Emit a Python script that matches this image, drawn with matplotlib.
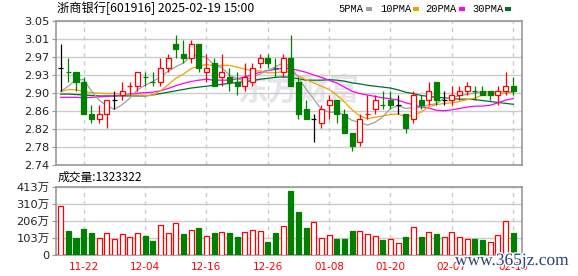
import matplotlib
matplotlib.use('Agg')
import matplotlib.pyplot as plt
import matplotlib.patheffects as pe
from matplotlib.patches import Rectangle
import numpy as np

# ---------------- data ----------------
tick_idx = [3, 11, 19, 27, 35, 43, 51, 59]
tick_labels = ['11-22', '12-04', '12-16', '12-26', '01-08', '01-20', '02-07', '02-19']

opens = [2.95, 2.94, 2.94, 2.92, 2.85, 2.84, 2.85, 2.88, 2.89, 2.91, 2.91, 2.93, 2.92, 2.92, 2.95,
         3.00, 2.98, 2.97, 3.00, 2.94, 2.96, 2.93, 2.93, 2.92, 2.91, 2.92, 2.96, 2.97, 2.95, 2.94,
         2.97, 2.92, 2.86, 2.84, 2.83, 2.87, 2.88, 2.85, 2.81, 2.79, 2.85, 2.86, 2.87, 2.88, 2.87,
         2.85, 2.84, 2.88, 2.88, 2.92, 2.88, 2.88, 2.89, 2.90, 2.90, 2.90, 2.90, 2.89, 2.90, 2.91]
highs = [3.00, 2.97, 2.94, 2.93, 2.87, 2.87, 2.88, 2.90, 2.92, 2.92, 2.94, 2.94, 2.94, 2.97, 2.98,
         3.02, 3.01, 3.01, 3.00, 2.98, 2.97, 2.98, 2.95, 2.94, 2.96, 2.96, 2.98, 2.98, 2.97, 2.98,
         3.02, 2.93, 2.88, 2.85, 2.87, 2.89, 2.88, 2.86, 2.81, 2.85, 2.89, 2.89, 2.90, 2.90, 2.89,
         2.85, 2.90, 2.89, 2.92, 2.92, 2.90, 2.91, 2.91, 2.92, 2.91, 2.91, 2.90, 2.91, 2.94, 2.93]
lows = [2.90, 2.92, 2.90, 2.85, 2.83, 2.83, 2.82, 2.86, 2.88, 2.89, 2.90, 2.91, 2.91, 2.91, 2.94,
        2.97, 2.96, 2.96, 2.94, 2.92, 2.91, 2.91, 2.90, 2.89, 2.90, 2.91, 2.95, 2.95, 2.93, 2.93,
        2.91, 2.84, 2.84, 2.79, 2.82, 2.84, 2.83, 2.81, 2.77, 2.78, 2.84, 2.85, 2.86, 2.86, 2.85,
        2.81, 2.83, 2.86, 2.87, 2.87, 2.87, 2.87, 2.88, 2.89, 2.88, 2.89, 2.88, 2.87, 2.89, 2.89]
closes = [2.95, 2.94, 2.92, 2.85, 2.84, 2.85, 2.88, 2.88, 2.90, 2.91, 2.94, 2.93, 2.92, 2.95, 2.97,
          2.99, 2.97, 3.00, 2.95, 2.95, 2.91, 2.94, 2.92, 2.91, 2.93, 2.95, 2.97, 2.96, 2.95, 2.97,
          2.91, 2.85, 2.84, 2.84, 2.86, 2.88, 2.85, 2.81, 2.78, 2.84, 2.85, 2.88, 2.87, 2.87, 2.87,
          2.82, 2.89, 2.87, 2.90, 2.88, 2.88, 2.89, 2.90, 2.91, 2.90, 2.89, 2.89, 2.90, 2.91, 2.90]
# volume in units of 万 (10k shares)
volumes = [296, 145, 103, 157, 133, 101, 131, 95, 125, 109, 131, 115, 85, 179, 131,
           191, 127, 151, 163, 113, 133, 137, 133, 109, 137, 149, 143, 79, 133, 175,
           389, 260, 165, 199, 103, 119, 97, 97, 145, 143, 127, 113, 91, 95, 71,
           109, 167, 109, 137, 127, 107, 137, 109, 97, 97, 91, 77, 119, 203, 132]

ma5 = [2.899, 2.910, 2.924, 2.924, 2.900, 2.880, 2.868, 2.860, 2.870, 2.884, 2.902, 2.912, 2.920, 2.930, 2.942,
       2.952, 2.960, 2.976, 2.976, 2.972, 2.956, 2.950, 2.934, 2.926, 2.922, 2.930, 2.936, 2.944, 2.952, 2.960,
       2.952, 2.928, 2.904, 2.882, 2.860, 2.854, 2.854, 2.848, 2.836, 2.832, 2.826, 2.832, 2.844, 2.862, 2.868,
       2.862, 2.864, 2.864, 2.870, 2.872, 2.884, 2.884, 2.890, 2.892, 2.896, 2.898, 2.898, 2.898, 2.898, 2.898]
ma10 = [2.898, 2.903, 2.902, 2.899, 2.896, 2.895, 2.894, 2.894, 2.893, 2.892, 2.891, 2.890, 2.890, 2.900, 2.913,
        2.927, 2.936, 2.948, 2.953, 2.957, 2.954, 2.955, 2.955, 2.951, 2.947, 2.943, 2.943, 2.939, 2.939, 2.941,
        2.941, 2.932, 2.924, 2.917, 2.910, 2.903, 2.891, 2.876, 2.859, 2.846, 2.840, 2.843, 2.846, 2.849, 2.850,
        2.844, 2.848, 2.854, 2.866, 2.870, 2.873, 2.874, 2.877, 2.881, 2.884, 2.891, 2.891, 2.894, 2.895, 2.897]
ma20 = [2.886, 2.886, 2.886, 2.885, 2.886, 2.887, 2.888, 2.889, 2.891, 2.893, 2.895, 2.896, 2.897, 2.900, 2.905,
        2.911, 2.916, 2.920, 2.923, 2.925, 2.923, 2.923, 2.923, 2.926, 2.930, 2.935, 2.940, 2.944, 2.946, 2.949,
        2.948, 2.944, 2.940, 2.934, 2.929, 2.923, 2.917, 2.908, 2.899, 2.894, 2.891, 2.888, 2.885, 2.883, 2.880,
        2.874, 2.870, 2.865, 2.863, 2.858, 2.857, 2.859, 2.862, 2.865, 2.867, 2.867, 2.869, 2.874, 2.880, 2.883]
ma30 = [2.893, 2.893, 2.892, 2.891, 2.890, 2.889, 2.889, 2.889, 2.889, 2.889, 2.889, 2.889, 2.891, 2.894, 2.897,
        2.900, 2.903, 2.906, 2.908, 2.910, 2.912, 2.914, 2.916, 2.918, 2.920, 2.922, 2.925, 2.927, 2.929, 2.930,
        2.929, 2.926, 2.923, 2.923, 2.923, 2.924, 2.923, 2.921, 2.917, 2.915, 2.912, 2.910, 2.908, 2.906, 2.902,
        2.897, 2.894, 2.890, 2.888, 2.886, 2.885, 2.883, 2.882, 2.882, 2.881, 2.879, 2.877, 2.875, 2.873, 2.871]

price_labels = ['2.74', '2.78', '2.82', '2.86', '2.90', '2.93', '2.97', '3.01', '3.05']
vol_labels = ['0', '103万', '206万', '310万', '413万']
title = '浙商银行[601916] 2025-02-19 15:00'
vol_title = '成交量:1323322'
ma_names = ['5PMA', '10PMA', '20PMA', '30PMA']

# ---------------- style ----------------
W, H = 578, 276
RED = '#ff0000'
GREEN = '#008000'
BLACK = '#000000'
FRAME = '#999999'
GRID = '#cccccc'
MA_COLORS = ['#a0a0a0', '#f5a000', '#ff00ff', '#006e33']
CJK = ['Noto Sans CJK SC', 'DejaVu Sans']
NUM = ['DejaVu Sans', 'Noto Sans CJK SC']

fig = plt.figure(figsize=(W / 100, H / 100), dpi=100)
fig.patch.set_facecolor('white')

left_px, right_px = 55.7, 522.3
ax = fig.add_axes([left_px / W, 1 - 165 / H, (right_px - left_px) / W, (165 - 21.3) / H])
axv = fig.add_axes([left_px / W, 1 - 255 / H, (right_px - left_px) / W, (255 - 186.7) / H])

n = len(closes)
x = np.arange(n)
xlim = (-0.65, 60.19)

# watermark behind
ax.text(0.52, 0.52, '东方财富', transform=ax.transAxes, fontsize=22, color='#e6e6ea',
        family=CJK, fontweight='bold', ha='center', va='center', zorder=0.5)

# grids
pmin, pmax = 2.74, 3.05
pticks = np.linspace(pmin, pmax, len(price_labels))
for a, ticks in ((ax, pticks), (axv, np.linspace(0, 413, len(vol_labels)))):
    for t in ticks:
        a.axhline(t, color=GRID, lw=1.0, zorder=1)
    for t in tick_idx:
        a.axvline(t, color=GRID, lw=1.0, ls=(0, (3, 3)), zorder=1)

# MA lines
for vals, c in zip((ma30, ma20, ma10, ma5), MA_COLORS[::-1]):
    ax.plot(x, vals, color=c, lw=0.9, zorder=2)

# candles
bw = 0.66
for i in range(n):
    o, h, l, c = opens[i], highs[i], lows[i], closes[i]
    prev = closes[i - 1] if i > 0 else c
    if c > o:
        col = RED
    elif c < o:
        col = GREEN
    else:
        col = RED if c > prev else (GREEN if c < prev else BLACK)
    ax.vlines(i, l, h, color=col, lw=0.9, zorder=3)
    if c != o:
        lo, hi = min(o, c), max(o, c)
        fc = 'white' if c > o else col
        ax.add_patch(Rectangle((i - bw / 2, lo), bw, hi - lo, facecolor=fc, edgecolor=col,
                               lw=0.9, zorder=4))
    else:
        ax.hlines(c, i - bw / 2, i + bw / 2, color=col, lw=0.9, zorder=4)

# volume bars
for i in range(n):
    up = True if i == 0 else closes[i] >= closes[i - 1]
    col = RED if up else GREEN
    axv.add_patch(Rectangle((i - bw / 2, 0), bw, volumes[i], facecolor='white' if up else col,
                            edgecolor=col, lw=0.9, zorder=3))

# axes formatting
for a in (ax, axv):
    a.set_xlim(*xlim)
    for s in a.spines.values():
        s.set_color(FRAME)
        s.set_linewidth(1.2)
    a.tick_params(axis='y', length=3, color=FRAME, pad=1.5, labelsize=8.2, labelcolor='#222222')
    a.tick_params(axis='x', length=0)

ax.set_ylim(pmin, pmax)
ax.set_yticks(pticks)
ax.set_yticklabels(price_labels, family=NUM)
ax.set_xticks([])

axv.set_ylim(0, 413)
axv.set_yticks(np.linspace(0, 413, len(vol_labels)))
axv.set_yticklabels(vol_labels, family=NUM)
axv.set_xticks(tick_idx)
axv.set_xticklabels(tick_labels, color=RED, fontsize=7.5, family=NUM)
axv.tick_params(axis='x', pad=5)

# title
fig.text(57 / W, 1 - 8.5 / H, title, fontsize=8.8, family=CJK, ha='left', va='center', color='#000000')
fig.text(58 / W, 1 - 177 / H, vol_title, fontsize=8.5, family=CJK, ha='left', va='center', color='#000000')

# MA legend
leg_text_x = [338, 380, 425, 472]
leg_box_x = [366, 413, 459, 505]
for name, tx, bx, c in zip(ma_names, leg_text_x, leg_box_x, MA_COLORS):
    fig.text(tx / W, 1 - 9 / H, name, fontsize=7.5, family=['Liberation Mono'], ha='left', va='center',
             color='#000000')
    fig.add_artist(Rectangle((bx / W, 1 - 11 / H), 6 / W, 4 / H, transform=fig.transFigure,
                             facecolor=c, edgecolor='none'))

# site watermark
fig.text(455 / W, 1 - 261 / H, 'www.365jz.com', fontsize=12.5, family=['Liberation Serif'],
         ha='left', va='center', color='#27457a',
         path_effects=[pe.withStroke(linewidth=2, foreground='white')])

fig.savefig('out.png', dpi=100, facecolor='white')
